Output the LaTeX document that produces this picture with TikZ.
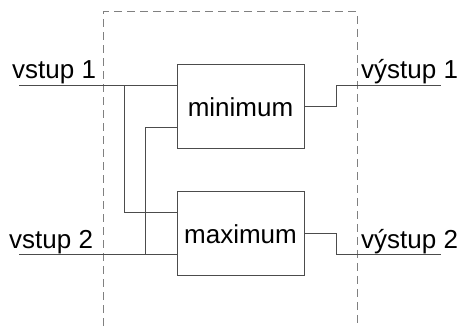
\documentclass[tikz,border=0pt]{standalone}
\usepackage{fontspec}
\setmainfont{Liberation Sans}
\begin{document}
\begin{tikzpicture}[x=1pt,y=1pt,
  wire/.style={draw=black!70,line width=1pt},
  block/.style={draw=black!70,line width=1pt,minimum width=127pt,minimum height=84pt,inner sep=0pt,font=\fontsize{26}{30}\selectfont},
  lbl/.style={anchor=base west,inner sep=0pt,font=\fontsize{26}{30}\selectfont},
  frame/.style={draw=black!50,line width=1pt,dash pattern=on 8pt off 5pt}]
\useasboundingbox (0,0) rectangle (462,326);
% dashed system boundary (open at the bottom)
\draw[frame] (103,0) -- (103,314) -- (357,314) -- (357,0);
% blocks
\node[block] (mn) at (240.5,219) {minimum};
\node[block] (mx) at (240.5,92) {maximum};
% terminals and junctions
\coordinate (in1) at (19,240);
\coordinate (in2) at (19,71);
\coordinate (out1) at (441,240);
\coordinate (out2) at (441,71);
\coordinate (j1) at (124,240);
\coordinate (j2) at (145,71);
\coordinate (mxin) at (177,113);
\coordinate (mnin) at (177,198);
% labels
\node[lbl] (l1) at (12,247) {vstup 1};
\node[lbl] (l2) at (9,77) {vstup 2};
\node[lbl] (l3) at (361,247) {výstup 1};
\node[lbl] (l4) at (361,77) {výstup 2};
% wiring
\draw[wire] (in1) -- (in1 -| mn.west);
\draw[wire] (in2) -- (in2 -| mx.west);
\draw[wire] (j1) |- (mxin);
\draw[wire] (j2) |- (mnin);
\draw[wire] (mn.east) -- ++(32,0) |- (out1);
\draw[wire] (mx.east) -- ++(32,0) |- (out2);
\end{tikzpicture}
\end{document}
